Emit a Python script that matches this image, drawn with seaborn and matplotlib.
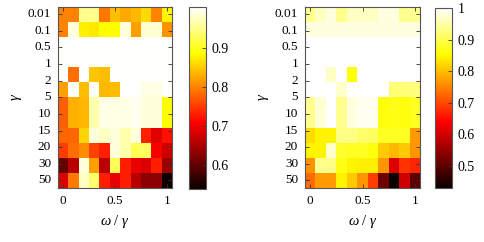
import numpy as np
import pandas as pd
import seaborn as sns
import matplotlib.pyplot as plt
from matplotlib.ticker import FormatStrFormatter

# оси
omega_cols = ['0', '0.1', '0.2', '0.3', '0.4', '0.5', '0.6', '0.7', '0.8', '0.9', '1']
gamma_rows = ['r1', 'r2', 'r3', 'r4', 'r5', 'r6', 'r7', 'r8', 'r9', 'r10', 'r11', 'r12']
gamma_labels = ['0.01', '0.1', '0.5', '1', '2', '5', '10', '15', '20', '30', '50']
x_labels = ['0', '0.5', '1']
left_cbar_ticks = [0.6, 0.7, 0.8, 0.9]
right_cbar_ticks = [0.5, 0.6, 0.7, 0.8, 0.9, 1.0]

# левая карта
left_vals = [
    [0.80, 0.80, 0.95, 0.95, 0.79, 0.84, 0.825, 0.835, 0.86, 0.80, 0.88],
    [0.80, 0.985, 0.875, 0.87, 0.885, 0.885, 0.985, 0.82, 0.98, 0.98, 0.81],
    [1.0, 1.0, 1.0, 1.0, 1.0, 1.0, 1.0, 1.0, 1.0, 1.0, 1.0],
    [1.0, 1.0, 1.0, 1.0, 1.0, 1.0, 1.0, 1.0, 1.0, 1.0, 1.0],
    [1.0, 0.785, 1.0, 0.845, 0.84, 1.0, 1.0, 1.0, 1.0, 1.0, 1.0],
    [0.82, 1.0, 0.84, 1.0, 0.835, 0.84, 1.0, 1.0, 0.99, 0.99, 1.0],
    [0.775, 0.83, 0.835, 0.965, 0.99, 0.99, 0.99, 0.995, 0.985, 0.985, 0.885],
    [0.775, 0.83, 0.835, 0.965, 0.99, 0.99, 0.99, 0.995, 0.985, 0.985, 0.885],
    [0.78, 0.78, 0.855, 0.985, 0.975, 0.985, 0.965, 0.985, 0.73, 0.69, 0.72],
    [0.75, 0.785, 0.805, 0.755, 0.73, 0.985, 0.965, 0.925, 0.93, 0.705, 0.675],
    [0.605, 0.66, 0.985, 0.82, 0.66, 0.925, 0.73, 0.695, 0.685, 0.73, 0.64],
    [0.685, 0.795, 0.975, 0.935, 0.73, 0.695, 0.73, 0.66, 0.63, 0.63, 0.545],
]

# правая карта
right_vals = [
    [0.935, 0.965, 0.98, 0.935, 0.965, 0.965, 0.965, 0.98, 0.98, 0.935, 0.935],
    [0.98, 0.98, 0.98, 0.98, 0.98, 0.98, 0.98, 0.98, 0.98, 0.98, 0.98],
    [1.0, 1.0, 1.0, 1.0, 1.0, 1.0, 1.0, 1.0, 1.0, 1.0, 1.0],
    [1.0, 1.0, 1.0, 1.0, 1.0, 1.0, 1.0, 1.0, 1.0, 1.0, 1.0],
    [1.0, 1.0, 0.965, 1.0, 0.86, 1.0, 1.0, 1.0, 1.0, 1.0, 1.0],
    [1.0, 1.0, 1.0, 0.97, 1.0, 1.0, 1.0, 1.0, 0.92, 0.92, 0.925],
    [0.935, 0.975, 1.0, 0.935, 0.98, 0.99, 0.99, 0.86, 0.87, 0.86, 0.875],
    [0.935, 0.975, 1.0, 0.935, 0.98, 0.99, 0.99, 0.86, 0.865, 0.86, 0.875],
    [0.825, 0.845, 0.845, 0.93, 0.93, 0.915, 0.91, 0.875, 0.875, 0.875, 0.77],
    [0.845, 0.845, 0.97, 0.88, 0.875, 0.875, 0.86, 0.81, 0.795, 0.81, 0.765],
    [0.76, 0.935, 0.93, 0.865, 0.845, 0.84, 0.84, 0.765, 0.61, 0.68, 0.67],
    [0.73, 0.77, 0.77, 0.845, 0.81, 0.765, 0.69, 0.515, 0.43, 0.595, 0.50],
]

plt.rcParams['font.family'] = ['Liberation Serif', 'DejaVu Serif']
plt.rcParams['mathtext.fontset'] = 'custom'
plt.rcParams['mathtext.rm'] = 'Liberation Serif'
plt.rcParams['mathtext.it'] = 'Liberation Serif:italic'
plt.rcParams['font.size'] = 9.5

fig = plt.figure(figsize=(4.85, 2.42), dpi=100)

panels = [
    (left_vals, [0.1196, 0.2231, 0.2351, 0.7492], [0.3897, 0.2190, 0.0351, 0.7520],
     0.54, 1.003, left_cbar_ticks),
    (right_vals, [0.6289, 0.2231, 0.2371, 0.7492], [0.8969, 0.2231, 0.0351, 0.7440],
     0.43, 1.0, right_cbar_ticks),
]

edge = '#555555'

for vals, pos, cpos, vmin, vmax, cticks in panels:
    df = pd.DataFrame(vals, index=gamma_rows, columns=omega_cols)
    ax = fig.add_axes(pos)
    cax = fig.add_axes(cpos)
    sns.heatmap(df, ax=ax, cbar_ax=cax, cmap='hot', vmin=vmin, vmax=vmax)

    # подписи осей
    ax.set_xticks([0.5, 5.5, 10.5])
    ax.set_xticklabels(x_labels, rotation=0)
    ax.set_yticks(np.linspace(0.5, len(gamma_rows) - 0.5, len(gamma_labels)))
    ax.set_yticklabels(gamma_labels, rotation=0)
    ax.tick_params(direction='in', length=3, width=0.6, color='#333333',
                   top=True, right=True, labelsize=9.5, pad=5)
    ax.set_xlabel(r'$\omega$ / $\gamma$', fontsize=10.5, labelpad=4)
    ax.set_ylabel(r'$\gamma$', fontsize=10.5, labelpad=3)
    for s in ax.spines.values():
        s.set_visible(True)
        s.set_color(edge)
        s.set_linewidth(0.8)

    # цветовая шкала
    cb = ax.collections[0].colorbar
    cb.set_ticks(cticks)
    cax.yaxis.set_major_formatter(FormatStrFormatter('%g'))
    cax.tick_params(direction='in', length=3, width=0.6, color='#333333',
                    labelsize=10, pad=4)
    cb.outline.set_visible(True)
    cb.outline.set_edgecolor(edge)
    cb.outline.set_linewidth(0.8)

plt.savefig('out.png', dpi=100)
